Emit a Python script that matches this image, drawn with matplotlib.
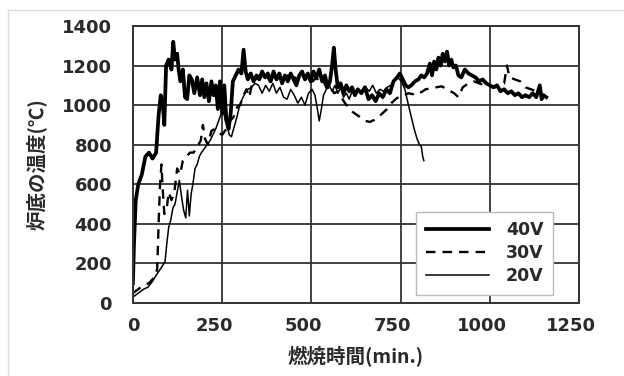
import matplotlib
matplotlib.use("Agg")
import matplotlib.pyplot as plt
from matplotlib.lines import Line2D
from matplotlib.transforms import ScaledTranslation

plt.rcParams['font.family'] = ['DejaVu Sans', 'Noto Sans CJK JP']

# 40V
x40 = [0, 3, 8, 15, 25, 35, 45, 55, 65, 72, 78, 84, 88, 93, 100, 108, 113, 118, 124, 128,
       133, 140, 146, 152, 158, 165, 172, 180, 188, 194, 200, 206, 213, 220, 226, 232, 238, 244,
       250, 256, 262, 268, 274, 280, 288, 296, 304, 310, 316, 322, 330, 338, 346, 354, 362, 370,
       378, 386, 394, 402, 410, 418, 426, 434, 442, 450, 458, 466, 474, 482, 490, 498, 506, 514,
       522, 530, 538, 546, 552, 558, 563, 568, 574, 582, 590, 598, 606, 614, 622, 630, 640, 650,
       660, 670, 680, 690, 700, 710, 720, 730, 740, 748, 756, 764, 772, 780, 790, 800, 808, 816,
       824, 832, 838, 844, 850, 856, 862, 868, 874, 880, 886, 892, 898, 905, 912, 920, 930, 940,
       950, 960, 970, 980, 990, 1000, 1010, 1020, 1030, 1040, 1050, 1060, 1070, 1080, 1090, 1100,
       1110, 1120, 1130, 1140, 1145, 1150, 1158]
y40 = [100, 300, 520, 600, 650, 740, 760, 730, 760, 950, 1050, 1000, 900, 1200, 1230, 1180, 1320, 1230, 1260, 1180,
       1120, 1180, 1040, 1030, 1150, 1130, 1060, 1140, 1050, 1130, 1040, 1110, 1020, 1120, 1050, 1100, 980, 1120,
       960, 1100, 920, 880, 960, 1120, 1150, 1180, 1160, 1280, 1170, 1130, 1160, 1120, 1150, 1130, 1170, 1140,
       1160, 1120, 1170, 1130, 1160, 1110, 1150, 1120, 1160, 1130, 1100, 1150, 1170, 1130, 1160, 1120, 1170, 1140,
       1180, 1120, 1150, 1090, 1120, 1200, 1290, 1180, 1090, 1110, 1060, 1100, 1070, 1090, 1050, 1080, 1060, 1090,
       1030, 1050, 1020, 1060, 1040, 1080, 1060, 1120, 1140, 1160, 1130, 1100, 1090, 1100, 1120, 1130, 1150, 1140,
       1160, 1210, 1150, 1220, 1180, 1240, 1200, 1260, 1220, 1270, 1200, 1230, 1190, 1200, 1150, 1140, 1180, 1160,
       1150, 1140, 1120, 1130, 1110, 1100, 1090, 1100, 1070, 1080, 1060, 1070, 1050, 1060, 1040, 1050,
       1040, 1060, 1040, 1100, 1030, 1050, 1040]

# 30V
x30 = [0, 15, 30, 45, 60, 68, 72, 76, 80, 84, 88, 95, 100, 108, 116, 124, 132, 140, 150, 160,
       170, 180, 190, 196, 202, 210, 220, 230, 240, 250, 262, 272, 282, 292, 300, 310, 318, 326,
       334, 344, 354, 364, 374, 384, 394, 404, 414, 424, 434, 444, 454, 464, 474, 484, 494, 504,
       514, 524, 534, 544, 554, 564, 574, 584, 594, 604, 616, 628, 640, 652, 664, 676, 688, 700,
       712, 724, 736, 748, 760, 772, 784, 796, 808, 820, 835, 850, 865, 880, 900, 912, 924, 940,
       955, 970, 985, 1000, 1015, 1028, 1040, 1048, 1055, 1070, 1085, 1100, 1115, 1130, 1145, 1160]
y30 = [50, 70, 90, 100, 130, 170, 400, 600, 700, 560, 450, 480, 560, 520, 560, 680, 650, 720, 740, 760,
       760, 790, 820, 900, 830, 800, 870, 880, 860, 850, 880, 920, 940, 990, 1000, 1050, 1080, 1040,
       1110, 1130, 1150, 1130, 1150, 1120, 1150, 1130, 1160, 1130, 1150, 1110, 1140, 1120, 1150, 1130, 1150, 1120,
       1140, 1110, 1120, 1080, 1090, 1060, 1070, 1040, 1010, 990, 965, 950, 935, 920, 915, 925, 940, 960,
       980, 1010, 1030, 1045, 1050, 1060, 1055, 1070, 1065, 1080, 1085, 1090, 1095, 1080, 1060, 1040, 1090, 1110,
       1120, 1110, 1100, 1100, 1090, 1110, 1110, 1200, 1140, 1130, 1120, 1090, 1080, 1070, 1055, 1040]

# 20V
x20 = [0, 15, 30, 42, 55, 65, 80, 90, 95, 100, 106, 112, 118, 124, 130, 136, 142, 148, 153, 158,
       163, 168, 174, 180, 186, 192, 200, 208, 216, 224, 232, 240, 246, 252, 258, 264, 270, 276,
       282, 290, 298, 306, 314, 322, 332, 342, 352, 362, 372, 382, 392, 402, 412, 422, 432, 442,
       452, 462, 472, 482, 492, 502, 510, 516, 522, 528, 534, 542, 550, 558, 566, 574, 582, 590,
       598, 606, 614, 622, 632, 642, 652, 662, 672, 682, 692, 702, 712, 722, 732, 742, 752, 762,
       772, 780, 788, 796, 803, 808, 812, 815]
y20 = [30, 50, 70, 80, 110, 140, 180, 210, 300, 380, 420, 480, 500, 560, 620, 540, 470, 430, 570, 440,
       550, 600, 680, 700, 740, 760, 780, 800, 820, 850, 880, 920, 950, 980, 930, 900, 850, 840,
       880, 930, 990, 1030, 1060, 1080, 1090, 1110, 1100, 1060, 1100, 1070, 1110, 1060, 1090, 1040, 1030, 1080,
       1050, 1010, 1040, 1000, 1060, 1080, 1050, 990, 920, 980, 1050, 1080, 1100, 1070, 1100, 1060, 1090, 1040,
       1060, 1030, 1070, 1050, 1080, 1060, 1090, 1070, 1100, 1060, 1080, 1070, 1090, 1100, 1120, 1140, 1120, 1080,
       1000, 940, 880, 830, 800, 790, 740, 720]

xticks = [0, 250, 500, 750, 1000, 1250]
yticks = [0, 200, 400, 600, 800, 1000, 1200, 1400]

fig = plt.figure(figsize=(6.24, 3.76), dpi=100)
ax = fig.add_axes([0.213, 0.194, 0.715, 0.737])

ax.plot(x40, y40, color='black', lw=2.7, label='40V', solid_joinstyle='round')
ax.plot(x30, y30, color='black', lw=1.7, ls=(0, (4, 3)), label='30V')
ax.plot(x20, y20, color='black', lw=1.1, label='20V')

ax.set_xlim(0, 1250)
ax.set_ylim(0, 1400)
ax.set_xticks(xticks)
ax.set_yticks(yticks)
ax.grid(True, color='#333333', lw=1.3)
ax.set_axisbelow(True)
for s in ax.spines.values():
    s.set_color('#333333')
    s.set_linewidth(1.4)
ax.tick_params(length=0, labelsize=13, labelcolor='#2a2a2a')
ax.tick_params(axis='y', pad=15)
ax.tick_params(axis='x', pad=10)
for lab in ax.get_xticklabels() + ax.get_yticklabels():
    lab.set_fontweight('bold')
# scanned labels sit a little left of their gridlines
shift = ScaledTranslation(-8 / 100, 0, fig.dpi_scale_trans)
for lab in ax.get_xticklabels()[1:]:
    lab.set_transform(lab.get_transform() + shift)

ax.set_xlabel('燃焼時間(min.)', fontsize=14, fontweight='bold', color='#2a2a2a',
              family=['Noto Sans CJK JP', 'DejaVu Sans'], labelpad=8)
ax.set_ylabel('炉底の温度(℃)', fontsize=14, fontweight='bold', color='#2a2a2a',
              family=['Noto Sans CJK JP', 'DejaVu Sans'], labelpad=11)

leg = ax.legend(loc='lower right', bbox_to_anchor=(0.942, 0.029), borderaxespad=0,
                fancybox=False, framealpha=1, edgecolor='#bbbbbb', handlelength=3.6,
                labelspacing=0.3, borderpad=0.55, handletextpad=1.0,
                prop={'size': 12.5, 'weight': 'bold'})
for t in leg.get_texts():
    t.set_color('#2a2a2a')

# faint scan frame
fig.add_artist(Line2D([0.013, 1.0], [0.973, 0.973], color='#dddddd', lw=1, transform=fig.transFigure))
fig.add_artist(Line2D([0.013, 0.013], [0.0, 0.973], color='#dddddd', lw=1, transform=fig.transFigure))

fig.savefig('out.png', dpi=100)
